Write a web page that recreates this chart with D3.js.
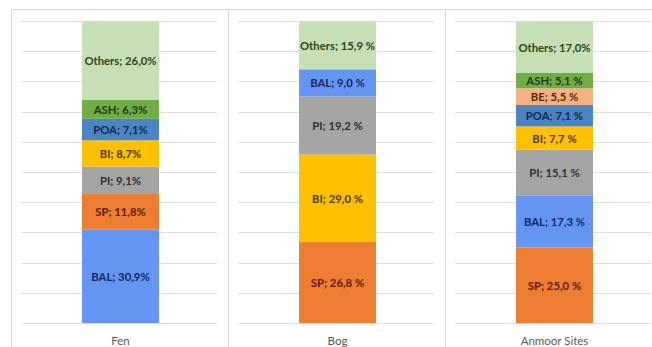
<!DOCTYPE html>
<html><head><meta charset="utf-8">
<script src="https://cdn.jsdelivr.net/npm/d3@7"></script>
<style>body{margin:0;background:#fff}svg{display:block}</style>
</head><body>
<script>
const categories = ["Fen", "Bog", "Anmoor Sites"];
const fenSpecies = ["BAL", "SP", "PI", "BI", "POA", "ASH", "Others"];
const fenValues = [30.9, 11.8, 9.1, 8.7, 7.1, 6.3, 26.0];
const fenLabels = ["BAL; 30,9%", "SP; 11,8%", "PI; 9,1%", "BI; 8,7%", "POA; 7,1%", "ASH; 6,3%", "Others; 26,0%"];
const bogSpecies = ["SP", "BI", "PI", "BAL", "Others"];
const bogValues = [26.8, 29.0, 19.2, 9.0, 15.9];
const bogLabels = ["SP; 26,8 %", "BI; 29,0 %", "PI; 19,2 %", "BAL; 9,0 %", "Others; 15,9 %"];
const anmoorSpecies = ["SP", "BAL", "PI", "BI", "POA", "BE", "ASH", "Others"];
const anmoorValues = [25.0, 17.3, 15.1, 7.7, 7.1, 5.5, 5.1, 17.0];
const anmoorLabels = ["SP; 25,0 %", "BAL; 17,3 %", "PI; 15,1 %", "BI; 7,7 %", "POA; 7,1 %", "BE; 5,5 %", "ASH; 5,1 %", "Others; 17,0%"];
const yTicks = [0, 10, 20, 30, 40, 50, 60, 70, 80, 90, 100];

const fill = {BAL:"#6495f2", SP:"#ed7d31", PI:"#a5a5a5", BI:"#ffc000", POA:"#4a84c4", ASH:"#70ad47", BE:"#f4b183", Others:"#c5e0b4"};
const ink = {BAL:"#15275e", SP:"#5a1c02", PI:"#2e2e2e", BI:"#4d3a00", POA:"#14294d", ASH:"#1d3a0e", BE:"#5a2608", Others:"#2a4520"};

const sites = [
  {name: categories[0], species: fenSpecies, values: fenValues, labels: fenLabels},
  {name: categories[1], species: bogSpecies, values: bogValues, labels: bogLabels},
  {name: categories[2], species: anmoorSpecies, values: anmoorValues, labels: anmoorLabels}
];

const W = 652, H = 347;
const svg = d3.select("body").append("svg").attr("width", W).attr("height", H);

const panel = d3.scaleBand().domain(categories).range([11, 662]).paddingInner(0).paddingOuter(0);
const y = d3.scaleLinear().domain([0, 100]).range([323, 21]);

svg.append("line").attr("x1", 11).attr("x2", W).attr("y1", 9.5).attr("y2", 9.5)
  .attr("stroke", "#d6d6d6").attr("stroke-width", 1);

sites.forEach((s, i) => {
  const x0 = panel(s.name), pw = panel.bandwidth();
  svg.append("line").attr("x1", Math.round(x0) + 0.5).attr("x2", Math.round(x0) + 0.5)
    .attr("y1", 9.5).attr("y2", H).attr("stroke", "#d6d6d6");
  const g = svg.append("g");
  g.selectAll("line.grid").data(yTicks).join("line").attr("class", "grid")
    .attr("x1", x0 + 10).attr("x2", x0 + pw - 11)
    .attr("y1", d => Math.round(y(d)) + 0.5).attr("y2", d => Math.round(y(d)) + 0.5)
    .attr("stroke", "#e0e0e0").attr("stroke-width", 1);

  const inner = d3.scaleBand().domain([s.name]).range([x0 + 1, x0 + pw + 1]).paddingInner(0).paddingOuter(0.91);
  const bx = inner(s.name), bw = inner.bandwidth();
  const rows = s.values.map((v, k) => ({sp: s.species[k], v, label: s.labels[k]}));
  const stack = d3.stack().keys(d3.range(rows.length)).value((d, k) => d[k])([s.values]);
  stack.forEach((layer, k) => { rows[k].y0 = layer[0][0]; rows[k].y1 = layer[0][1]; });

  g.selectAll("rect.seg").data(rows).join("rect").attr("class", "seg")
    .attr("x", bx).attr("width", bw)
    .attr("y", d => y(d.y1)).attr("height", d => y(d.y0) - y(d.y1))
    .attr("fill", d => fill[d.sp]);
  g.selectAll("text.lab").data(rows).join("text").attr("class", "lab")
    .attr("x", bx + bw / 2).attr("y", d => (y(d.y0) + y(d.y1)) / 2)
    .attr("text-anchor", "middle").attr("dominant-baseline", "central")
    .attr("font-family", "Lato, 'Open Sans', sans-serif").attr("font-weight", "bold")
    .attr("font-size", 11.3).attr("fill", d => ink[d.sp])
    .text(d => d.label);
  g.append("text").attr("x", bx + bw / 2).attr("y", 340)
    .attr("text-anchor", "middle").attr("dominant-baseline", "central")
    .attr("font-family", "Lato, 'Open Sans', sans-serif").attr("font-size", 11.5)
    .attr("fill", "#595959").text(s.name);
});
</script>
</body></html>
